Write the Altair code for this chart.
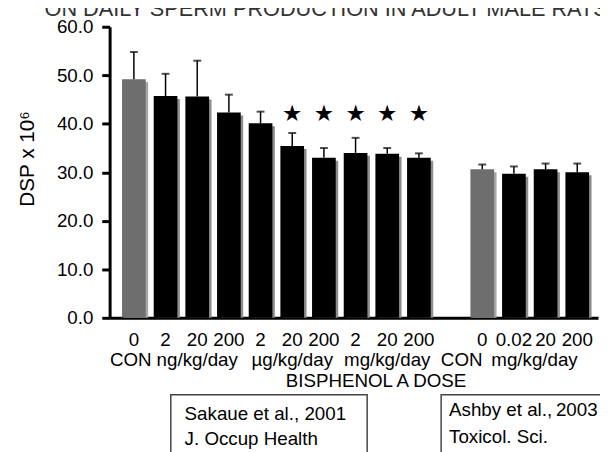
import altair as alt
import pandas as pd

# ---- data ----
slots = [0, 1, 2, 3, 4, 5, 6, 7, 8, 9, 11, 12, 13, 14]
means = [49.2, 45.7, 45.6, 42.3, 40.1, 35.4, 33.0, 34.0, 33.8, 33.0, 30.6, 29.7, 30.6, 30.0]
uppers = [54.8, 50.3, 53.0, 46.0, 42.5, 38.1, 35.0, 37.1, 35.0, 33.9, 31.6, 31.2, 31.8, 31.8]
controls = [1, 0, 0, 0, 0, 0, 0, 0, 0, 0, 1, 0, 0, 0]
dose_labels = ["0", "2", "20", "200", "2", "20", "200", "2", "20", "200", "0", "0.02", "20", "200"]
star_slots = [5, 6, 7, 8, 9]
star_level = [41.9, 41.9, 41.9, 41.9, 41.9]
unit_labels = ["CON", "ng/kg/day", "\u00b5g/kg/day", "mg/kg/day", "CON", "mg/kg/day"]
unit_slots = [-0.1, 2, 5, 8, 10.35, 12.65]
y_ticks = [0, 10, 20, 30, 40, 50, 60]

bars = pd.DataFrame({"slot": slots, "mean": means, "upper": uppers,
                     "ctrl": controls, "dose": dose_labels})
stars = pd.DataFrame({"slot": star_slots, "lvl": star_level})
units = pd.DataFrame({"slot": unit_slots, "label": unit_labels})
one = pd.DataFrame({"k": [0]})

FONT = "Liberation Sans"
FS = 19
W, H = 495, 295

xs = alt.Scale(domain=[-0.61, 14.5], nice=False, zero=False)
ys = alt.Scale(domain=[0, 60], nice=False)

X = alt.X("slot:Q", scale=xs,
          axis=alt.Axis(labels=False, ticks=False, grid=False, title=None,
                        domainColor="black", domainWidth=3))
Y = alt.Y("mean:Q", scale=ys,
          axis=alt.Axis(values=y_ticks, format=".1f", grid=False, title=None,
                        domainColor="black", domainWidth=3, tickColor="black",
                        tickWidth=3, tickSize=8, labelFontSize=FS, labelFont=FONT,
                        labelColor="black", labelPadding=9))

base = alt.Chart(bars)
single = alt.Chart(one)

shadow = base.mark_bar(width=24, xOffset=2.5, yOffset=3, y2Offset=0).encode(
    x=X, y=Y, y2=alt.datum(0),
    color=alt.condition("datum.ctrl == 1", alt.value("#a8a8a8"), alt.value("#8c8c8c")))

main = base.mark_bar(width=24).encode(
    x="slot:Q", y="mean:Q", y2=alt.datum(0),
    color=alt.condition("datum.ctrl == 1", alt.value("#6e6e6e"), alt.value("black")))

err = base.mark_rule(color="black", strokeWidth=1.5).encode(
    x="slot:Q", y="mean:Q", y2="upper:Q")

caps = base.mark_tick(color="black", orient="horizontal", size=8, thickness=2).encode(
    x="slot:Q", y=alt.Y("upper:Q"))

star = alt.Chart(stars).mark_text(text="\u2605", fontSize=23, font="DejaVu Sans",
                                  color="black", baseline="middle").encode(
    x="slot:Q", y=alt.Y("lvl:Q"))

dose = base.mark_text(fontSize=FS, font=FONT, color="black", baseline="middle").encode(
    x="slot:Q", y=alt.value(318), text="dose:N")

unit = alt.Chart(units).mark_text(fontSize=FS, font=FONT, color="black",
                                  baseline="middle").encode(
    x="slot:Q", y=alt.value(338), text="label:N")

xtitle = single.mark_text(text="BISPHENOL A DOSE", fontSize=FS, font=FONT,
                          color="black", baseline="middle").encode(
    x=alt.value(270), y=alt.value(359))

ytitle = single.mark_text(text="DSP x 10\u2076", fontSize=21, font=FONT, angle=270,
                          color="black", baseline="middle").encode(
    x=alt.value(-83), y=alt.value(134))

box1 = single.mark_rect(fill=None, stroke="#444444", strokeWidth=1.5).encode(
    x=alt.value(62), x2=alt.value(261), y=alt.value(373), y2=alt.value(460))
box2 = single.mark_rect(fill=None, stroke="#444444", strokeWidth=1.5).encode(
    x=alt.value(336), x2=alt.value(540), y=alt.value(373), y2=alt.value(460))

ref1a = single.mark_text(text="Sakaue et al., 2001", fontSize=FS, font=FONT,
                         color="black", align="left", baseline="middle").encode(
    x=alt.value(76), y=alt.value(393))
ref1b = single.mark_text(text="J. Occup Health", fontSize=FS, font=FONT,
                         color="black", align="left", baseline="middle").encode(
    x=alt.value(76), y=alt.value(418))
ref2a = single.mark_text(text="Ashby et al.,\u20092003", fontSize=FS, font=FONT,
                         color="black", align="left", baseline="middle").encode(
    x=alt.value(344), y=alt.value(389))
ref2b = single.mark_text(text="Toxicol. Sci.", fontSize=FS, font=FONT,
                         color="black", align="left", baseline="middle").encode(
    x=alt.value(344), y=alt.value(416))

top = single.mark_text(text="ON DAILY SPERM PRODUCTION IN ADULT MALE RATS", fontSize=22,
                       font=FONT, color="#333333", align="left",
                       baseline="alphabetic").encode(
    x=alt.value(-66), y=alt.value(-11))

chart = alt.layer(shadow, main, err, caps, star, dose, unit, xtitle, ytitle,
                  box1, box2, ref1a, ref1b, ref2a, ref2b, top).properties(
    width=W, height=H,
    autosize=alt.AutoSizeParams(type="none"),
    padding={"left": 103, "top": 16, "right": 2, "bottom": 133},
).configure_view(stroke=None)

chart.save("out.html", embed_options={"renderer": "svg", "actions": False})
